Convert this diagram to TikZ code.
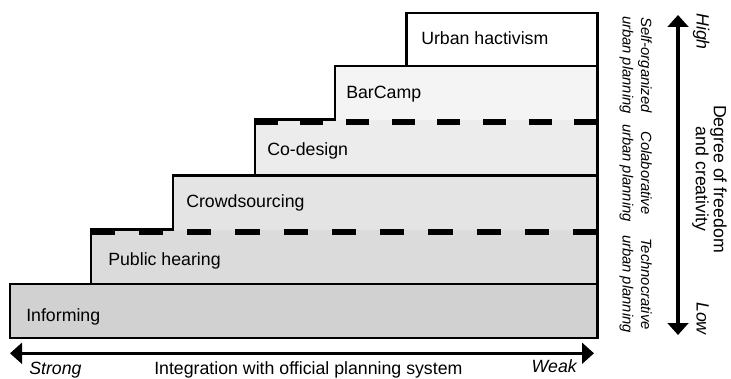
\documentclass[tikz,border=0pt]{standalone}
\usepackage{fontspec}
\setmainfont{Liberation Sans}
\usetikzlibrary{arrows.meta, positioning}

\definecolor{inform}{gray}{0.82}
\definecolor{hearing}{gray}{0.86}
\definecolor{crowd}{gray}{0.895}
\definecolor{codesign}{gray}{0.925}
\definecolor{barcamp}{gray}{0.957}

\begin{document}
\begin{tikzpicture}[x=0.75pt, y=-0.75pt,
    steplabel/.style={anchor=base west, inner sep=0pt, font=\fontsize{13.3}{16}\selectfont},
    sidelabel/.style={rotate=-90, align=center, inner sep=0pt, font=\fontsize{11.1}{13.8}\selectfont\itshape},
    axisline/.style={line width=2.4pt, {Triangle[length=9pt,width=15.5pt]}-{Triangle[length=9pt,width=15.5pt]}},
    border/.style={line width=1.8pt},
    splitline/.style={line width=4pt}]
    \useasboundingbox (0,0) rectangle (731,378);

    % Filled steps
    \fill[inform]   (9.7,284)   rectangle (597.3,337.7);
    \fill[hearing]  (90.7,229.5) rectangle (597.3,284);
    \fill[crowd]    (173,175.3) rectangle (597.3,229.5);
    \fill[codesign] (254.7,119.5) rectangle (597.3,175.3);
    \fill[barcamp]  (334.7,66)  rectangle (597.3,119.5);
    \fill[white]    (406.3,12.8) rectangle (597.3,66);

    % Dashed borders between planning types
    \draw[splitline, dash pattern=on 17.13pt off 17.13pt] (254.7,122) -- (597.3,122);
    \draw[splitline, dash pattern=on 18.09pt off 18.09pt] (90.7,232) -- (597.3,232);

    % Staircase outline and solid separators
    \draw[border] (9.7,337.7) -- (9.7,284) -- (90.7,284) -- (90.7,229.5) -- (173,229.5)
        -- (173,175.3) -- (254.7,175.3) -- (254.7,119.5) -- (334.7,119.5) -- (334.7,66)
        -- (406.3,66) -- (406.3,12.8) -- (597.3,12.8) -- (597.3,337.7) -- cycle;
    \draw[border] (90.7,284) -- (597.3,284);
    \draw[border] (254.7,175.3) -- (597.3,175.3);
    \draw[border] (406.3,66) -- (597.3,66);

    % Step labels
    \node[steplabel] (informing) at (26,321.7) {Informing};
    \node[steplabel] (hearing)   at (108,265)  {Public hearing};
    \node[steplabel] (crowdsrc)  at (186,207.7) {Crowdsourcing};
    \node[steplabel] (codes)     at (267,155)  {Co-design};
    \node[steplabel] (barcmp)    at (346,98.7) {BarCamp};
    \node[steplabel] (hactiv)    at (421,44.3) {Urban hactivism};

    % Horizontal axis
    \coordinate (strong) at (10,353.3);
    \coordinate (weak)   at (594,353.3);
    \draw[axisline] (strong) -- (weak);
    \node[steplabel, font=\fontsize{13.3}{16}\selectfont\itshape] (strongtxt) at (29,374) {Strong};
    \node[steplabel] (integtxt) at (154,374) {Integration with official planning system};
    \node[steplabel, anchor=base east, font=\fontsize{13.3}{16}\selectfont\itshape] (weaktxt) at (577,372) {Weak};

    % Vertical axis
    \coordinate (high) at (678,15);
    \coordinate (low)  at (678,335);
    \draw[axisline] (low) -- (high);
    \node[steplabel, rotate=-90, font=\fontsize{13.3}{16}\selectfont\itshape] (hightxt) at (696.5,13) {High};
    \node[steplabel, rotate=-90, anchor=base east, font=\fontsize{13.3}{16}\selectfont\itshape] (lowtxt) at (696.5,335) {Low};
    \node[rotate=-90, align=center, inner sep=0pt, font=\fontsize{13.3}{13.6}\selectfont] (degree) at (709.5,179) {Degree of freedom\\and creativity};

    % Planning types
    \node[sidelabel] (selforg) at (635.7,65)  {Self-organized\\urban planning};
    \node[sidelabel] (colab)   at (635.7,173) {Colaborative\\urban planning};
    \node[sidelabel] (techno)  at (635.7,284) {Technocrative\\urban planning};
\end{tikzpicture}
\end{document}
